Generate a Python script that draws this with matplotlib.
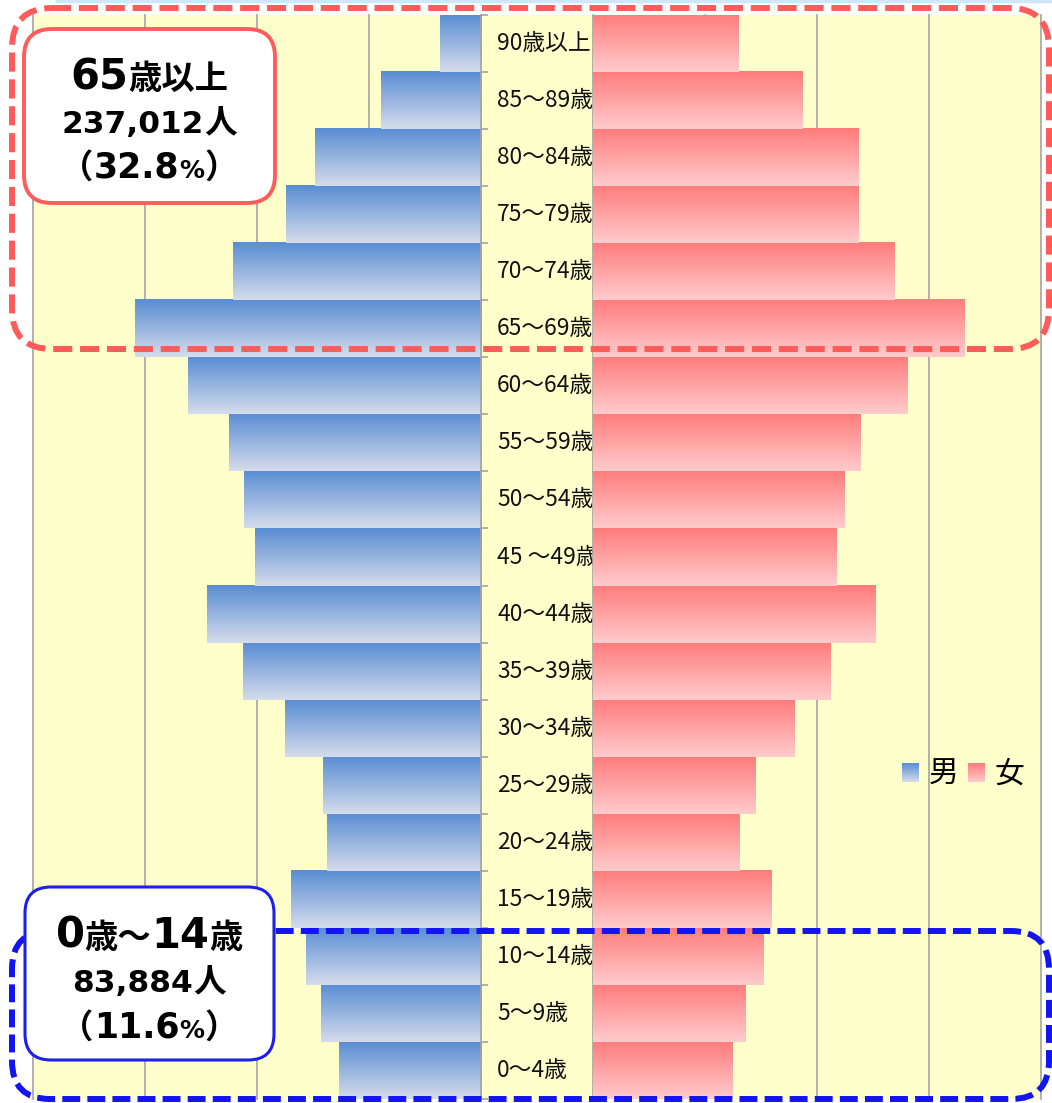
import numpy as np
import matplotlib
matplotlib.use('Agg')
import matplotlib.pyplot as plt
import matplotlib.transforms as mtransforms
from matplotlib.patches import FancyBboxPatch

plt.rcParams['font.family'] = ['Noto Sans CJK JP', 'DejaVu Sans']
BOX_FONT = ['DejaVu Sans', 'Noto Sans CJK JP']

# age groups, youngest first (bottom of the pyramid)
ages = ['0～4歳', '5～9歳', '10～14歳', '15～19歳', '20～24歳', '25～29歳',
        '30～34歳', '35～39歳', '40～44歳', '45 ～49歳', '50～54歳', '55～59歳',
        '60～64歳', '65～69歳', '70～74歳', '75～79歳', '80～84歳', '85～89歳',
        '90歳以上']
male = [12700, 14300, 15650, 17000, 13750, 14100, 17500, 21250, 24450, 20200,
        21150, 22500, 26150, 30900, 22100, 17400, 14800, 8900, 3700]
female = [12450, 13600, 15184, 15900, 13050, 14550, 17950, 21250, 25250, 21700,
          22500, 23850, 28050, 33200, 26900, 23700, 23700, 18700, 13012]
x_max = 40000
grid_step = 10000

old_title = ['65', '歳以上']
old_count = ['237,012', '人']
old_pct = '32.8'
young_title = ['0', '歳～', '14', '歳']
young_count = ['83,884', '人']
young_pct = '11.6'

W, H = 1052, 1103
fig = plt.figure(figsize=(W / 100, H / 100), dpi=100)


def px_rect(x0, y0, x1, y1):
    return [x0 / W, 1 - y1 / H, (x1 - x0) / W, (y1 - y0) / H]


def gradient(c_top, c_bot, n=64):
    t = np.linspace(0, 1, n)[:, None]
    rgb = (1 - t) * np.array(c_top) + t * np.array(c_bot)
    return rgb[:, None, :]


def hexrgb(h):
    return np.array(matplotlib.colors.to_rgb(h))


male_grad = gradient(hexrgb('#598DD4'), hexrgb('#D5DCEB'))
female_grad = gradient(hexrgb('#FF7C7C'), hexrgb('#FFCBCC'))

top, bottom = 15, 1099
bg = fig.add_axes(px_rect(33, top, 1041, bottom))
bg.set_facecolor('#FFFFCC')
bg.set_xticks([])
bg.set_yticks([])
for s in bg.spines.values():
    s.set_visible(False)

ax_m = fig.add_axes(px_rect(33, top, 481, bottom))
ax_f = fig.add_axes(px_rect(593, top, 1041, bottom))

y = np.arange(len(ages))
for ax, vals, grad in [(ax_m, male, male_grad), (ax_f, female, female_grad)]:
    ax.patch.set_visible(False)
    bars = ax.barh(y, vals, height=1.0, color='none', zorder=2)
    for b in bars:
        x0, y0 = b.get_x(), b.get_y()
        ax.imshow(grad, extent=(x0, x0 + b.get_width(), y0, y0 + b.get_height()),
                  origin='upper', aspect='auto', interpolation='bilinear', zorder=2)
    ax.set_ylim(-0.5, len(ages) - 0.5)
    ax.set_xticks(np.arange(0, x_max + 1, grid_step))
    ax.grid(axis='x', color='#A3A3A3', lw=1.2)
    ax.set_axisbelow(True)
    ax.tick_params(axis='x', length=0, labelbottom=False)
    for s in ax.spines.values():
        s.set_visible(False)

ax_m.set_xlim(x_max, 0)
ax_f.set_xlim(0, x_max)
for gl in ax_m.get_xgridlines() + ax_f.get_xgridlines():
    gl.set_clip_on(False)

# male axis line with ticks between the age groups
ax_m.spines['right'].set_visible(True)
ax_m.spines['right'].set_color('#A3A3A3')
ax_m.spines['right'].set_linewidth(1.2)
ax_m.yaxis.tick_right()
ax_m.set_yticks(np.arange(-0.5, len(ages), 1))
ax_m.tick_params(axis='y', direction='out', length=5, width=1.2, color='#A3A3A3',
                 labelright=False, labelleft=False)
ax_f.set_yticks([])

trans = mtransforms.blended_transform_factory(ax_m.transAxes, ax_m.transData)
for i, lab in enumerate(ages):
    ax_m.text(1 + 16 / 448, i, lab, transform=trans, ha='left', va='center',
              fontsize=16.4, color='#111111', clip_on=False)

# overlay in pixel coordinates for boxes and legend
ov = fig.add_axes([0, 0, 1, 1])
ov.patch.set_visible(False)
ov.axis('off')

ov.plot([55, W], [1, 1], color='#CFE7F8', lw=2.5, solid_capstyle='butt')

ov.add_patch(FancyBboxPatch((12, 8), 1037, 341, boxstyle='round,pad=0,rounding_size=40',
                            fill=False, ec='#FF5B5B', lw=4.3, ls=(0, (3.2, 1.3))))
ov.add_patch(FancyBboxPatch((12, 931), 1037, 168, boxstyle='round,pad=0,rounding_size=38',
                            fill=False, ec='#1414F0', lw=4.3, ls=(0, (3.0, 1.2))))
ov.add_patch(FancyBboxPatch((24, 29), 251, 174, boxstyle='round,pad=0,rounding_size=28',
                            fc='white', ec='#FF5B5B', lw=2.8))
ov.add_patch(FancyBboxPatch((25, 887), 249, 173, boxstyle='round,pad=0,rounding_size=26',
                            fc='white', ec='#1F1FE6', lw=2.2))

renderer = fig.canvas.get_renderer()


def rich_line(xc, y_base, parts):
    texts = [ov.text(0, y_base, s, fontsize=size, fontweight='bold', family=BOX_FONT,
                     ha='left', va='baseline', color='black') for s, size in parts]
    widths = [t.get_window_extent(renderer).width for t in texts]
    x = xc - sum(widths) / 2
    for t, w in zip(texts, widths):
        t.set_x(x)
        x += w


rich_line(149, 89, [(old_title[0], 30), (old_title[1], 24)])
rich_line(149, 133, [(old_count[0], 22.5), (old_count[1], 23.5)])
rich_line(149, 178, [('（', 24), (old_pct, 25), ('%', 18), ('）', 24)])
rich_line(149, 948, [(young_title[0], 30), (young_title[1], 24),
                     (young_title[2], 30), (young_title[3], 24)])
rich_line(149, 992, [(young_count[0], 22.5), (young_count[1], 23.5)])
rich_line(149, 1038, [('（', 24), (young_pct, 25), ('%', 18), ('）', 24)])

# legend
ov.imshow(male_grad, extent=(902, 919, 782, 763), origin='upper', aspect='auto')
ov.imshow(female_grad, extent=(968, 985, 782, 763), origin='upper', aspect='auto')
ov.text(929, 774, '男', fontsize=21.5, ha='left', va='center')
ov.text(994, 774, '女', fontsize=21.5, ha='left', va='center')

ov.set_xlim(0, W)
ov.set_ylim(H, 0)

fig.savefig('out.png', dpi=100, facecolor='white')
